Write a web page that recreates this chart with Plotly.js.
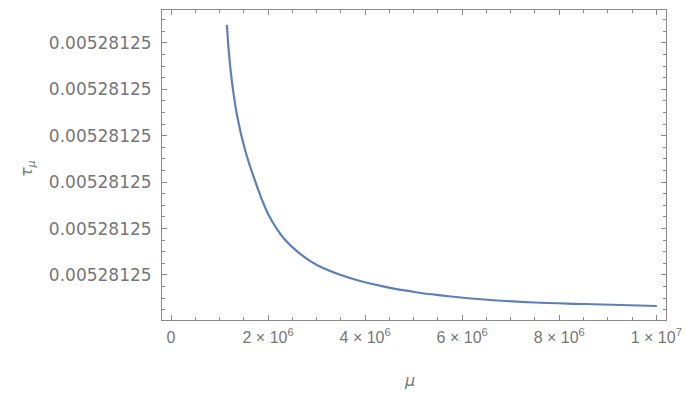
<!DOCTYPE html>
<html>
<head>
<meta charset="utf-8">
<script src="https://cdn.plot.ly/plotly-3.0.1.min.js"></script>
<style>html,body{margin:0;padding:0;background:#fff;}#plot{width:685px;height:395px;}</style>
</head>
<body>
<div id="plot"></div>
<script>
// mu values (x)
const mu = [1.152e6, 1.185e6, 1.255e6, 1.359e6, 1.516e6, 1.737e6, 2.012e6, 2.323e6, 2.668e6, 3.014e6, 3.703e6, 4.391e6, 5.082e6, 5.771e6, 6.453e6, 7.487e6, 8.521e6, 1.001e7];
// tau_mu offsets, in units of the (identical-looking) y tick spacing
const tau = [6.388, 5.886, 5.166, 4.448, 3.731, 3.011, 2.293, 1.791, 1.45, 1.21, 0.929, 0.748, 0.623, 0.537, 0.472, 0.407, 0.375, 0.332];
const xTickVals = [0, 2e6, 4e6, 6e6, 8e6, 1e7];
const xTickText = ["0", "2 × 10<sup>6</sup>", "4 × 10<sup>6</sup>", "6 × 10<sup>6</sup>", "8 × 10<sup>6</sup>", "1 × 10<sup>7</sup>"];
const yTickVals = [1, 2, 3, 4, 5, 6];
const yTickText = ["0.00528125", "0.00528125", "0.00528125", "0.00528125", "0.00528125", "0.00528125"];

const textColor = "#767676";
const tickFont = {family: "DejaVu Sans", size: 17, color: textColor};
const frameColor = "#8a8a8a";

Plotly.newPlot("plot", [{
  x: mu, y: tau, type: "scatter", mode: "lines",
  line: {color: "#5E81B5", width: 2.2, shape: "spline", smoothing: 1},
  hoverinfo: "none"
}], {
  width: 685, height: 395,
  margin: {l: 162, r: 19, t: 10, b: 75},
  paper_bgcolor: "#fff", plot_bgcolor: "#fff",
  showlegend: false,
  xaxis: {
    range: [-1.86e5, 1.02e7], tickvals: xTickVals, ticktext: xTickText,
    ticks: "inside", ticklen: 5, tickcolor: frameColor, tickwidth: 1,
    showline: true, mirror: "allticks", linecolor: frameColor, linewidth: 1,
    showgrid: false, zeroline: false, tickfont: {family: "Liberation Sans", size: 16, color: textColor},
    ticklabeloverflow: "allow", ticklabelstandoff: 3,
    minor: {dtick: 5e5, tick0: 0, ticks: "inside", ticklen: 3, tickcolor: frameColor, showgrid: false},
    automargin: false
  },
  yaxis: {
    range: [0.03, 6.71], tickvals: yTickVals, ticktext: yTickText,
    ticks: "inside", ticklen: 5, tickcolor: frameColor, tickwidth: 1,
    showline: true, mirror: "allticks", linecolor: frameColor, linewidth: 1,
    showgrid: false, zeroline: false, tickfont: tickFont, ticklabelstandoff: 6,
    minor: {dtick: 0.25, tick0: 0, ticks: "inside", ticklen: 3, tickcolor: frameColor, showgrid: false},
    automargin: false
  },
  annotations: [
    {text: "<i>μ</i>", xref: "paper", yref: "paper", x: 0.492, y: -0.194, showarrow: false,
     xanchor: "center", yanchor: "middle", font: {family: "DejaVu Sans", size: 16, color: textColor}},
    {text: "<i>τ<sub>μ</sub></i>", xref: "paper", yref: "paper", x: -0.268, y: 0.49, showarrow: false,
     textangle: -90, xanchor: "center", yanchor: "middle", font: {family: "DejaVu Sans", size: 16, color: textColor}}
  ]
}, {displayModeBar: false, staticPlot: true});
</script>
</body>
</html>
